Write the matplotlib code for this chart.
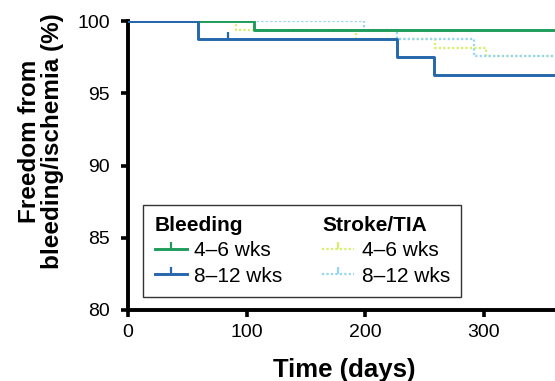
import numpy as np
import matplotlib
matplotlib.use("Agg")
import matplotlib.pyplot as plt
from matplotlib.lines import Line2D

plt.rcParams['font.family'] = ['Liberation Sans', 'DejaVu Sans']

# Kaplan-Meier style step data (days, freedom %)
bleed_46_t = [0, 106, 365]
bleed_46_s = [100, 99.4, 99.4]
bleed_46_cens_t = [50]
bleed_46_cens_s = [100]

bleed_812_t = [0, 59, 227, 258, 365]
bleed_812_s = [100, 98.75, 97.5, 96.25, 96.25]
bleed_812_cens_t = [84]
bleed_812_cens_s = [98.75]

stroke_46_t = [0, 91, 192, 259, 302, 365]
stroke_46_s = [100, 99.4, 98.75, 98.15, 97.55, 97.55]

stroke_812_t = [0, 199, 227, 292, 365]
stroke_812_s = [100, 99.4, 98.75, 97.6, 97.6]

xticks = [0, 100, 200, 300]
yticks = [80, 85, 90, 95, 100]

c_green = '#1f9c5c'
c_blue = '#2467ac'
c_yellow = '#d6f06a'
c_lblue = '#94d6f4'

fig = plt.figure(figsize=(5.55, 3.81), dpi=100)
ax = fig.add_axes([128/555, 71/381, 433/555, 289/381])

# dotted (stroke/TIA) behind the solid bleeding curves
ax.step(stroke_46_t, stroke_46_s, where='post', color=c_yellow, lw=1.6,
        ls=(0, (1, 1)), zorder=2)
ax.step(stroke_812_t, stroke_812_s, where='post', color=c_lblue, lw=1.6,
        ls=(0, (1, 1)), zorder=2)
ax.step(bleed_46_t, bleed_46_s, where='post', color=c_green, lw=2.1, zorder=3)
ax.step(bleed_812_t, bleed_812_s, where='post', color=c_blue, lw=2.1, zorder=3)
ax.plot(bleed_46_cens_t, bleed_46_cens_s, ls='none', marker=2, ms=5, mew=1.6,
        color=c_green, zorder=3)
ax.plot(bleed_812_cens_t, bleed_812_cens_s, ls='none', marker=2, ms=5, mew=1.6,
        color=c_blue, zorder=3)

ax.set_xlim(0, 365)
ax.set_ylim(80, 100)
ax.set_xticks(xticks)
ax.set_yticks(yticks)
for s in ['top', 'right']:
    ax.spines[s].set_visible(False)
for s in ['left', 'bottom']:
    ax.spines[s].set_linewidth(2.8)
ax.tick_params(direction='out', length=5, width=2.6, labelsize=14, pad=5)
ax.tick_params(axis='y', pad=8)

ax.set_xlabel('Time (days)', fontsize=18.5, fontweight='bold', labelpad=12)
ax.set_ylabel('Freedom from\nbleeding/ischemia (%)', fontsize=17.5,
              fontweight='bold', linespacing=1.0)
ax.yaxis.set_label_coords(-0.148, 0.583)

blank = Line2D([], [], ls='none')
h_g = Line2D([], [], color=c_green, lw=2.1, marker=2, ms=5, mew=1.6)
h_b = Line2D([], [], color=c_blue, lw=2.1, marker=2, ms=5, mew=1.6)
h_y = Line2D([], [], color=c_yellow, lw=1.6, ls=(0, (1, 1)), marker=2, ms=5, mew=1.6)
h_l = Line2D([], [], color=c_lblue, lw=1.6, ls=(0, (1, 1)), marker=2, ms=5, mew=1.6)
leg = ax.legend([blank, h_g, h_b, blank, h_y, h_l],
                ['Bleeding', '4\u20136 wks', '8\u201312 wks',
                 'Stroke/TIA', '4\u20136 wks', '8\u201312 wks'],
                ncol=2, loc='lower left', bbox_to_anchor=(0.035, 0.045),
                fontsize=15, frameon=True, fancybox=False, edgecolor='black',
                handlelength=1.55, handletextpad=0.35, columnspacing=1.9,
                borderpad=0.55, labelspacing=0.3, borderaxespad=0)
leg.get_frame().set_linewidth(1.0)
for t in leg.get_texts():
    if t.get_text() in ('Bleeding', 'Stroke/TIA'):
        t.set_fontweight('bold')
for col in leg._legend_handle_box.get_children():
    first = col.get_children()[0]
    first.get_children()[0].set_width(0)
    first.sep = 0

fig.savefig('out.png', dpi=100)
